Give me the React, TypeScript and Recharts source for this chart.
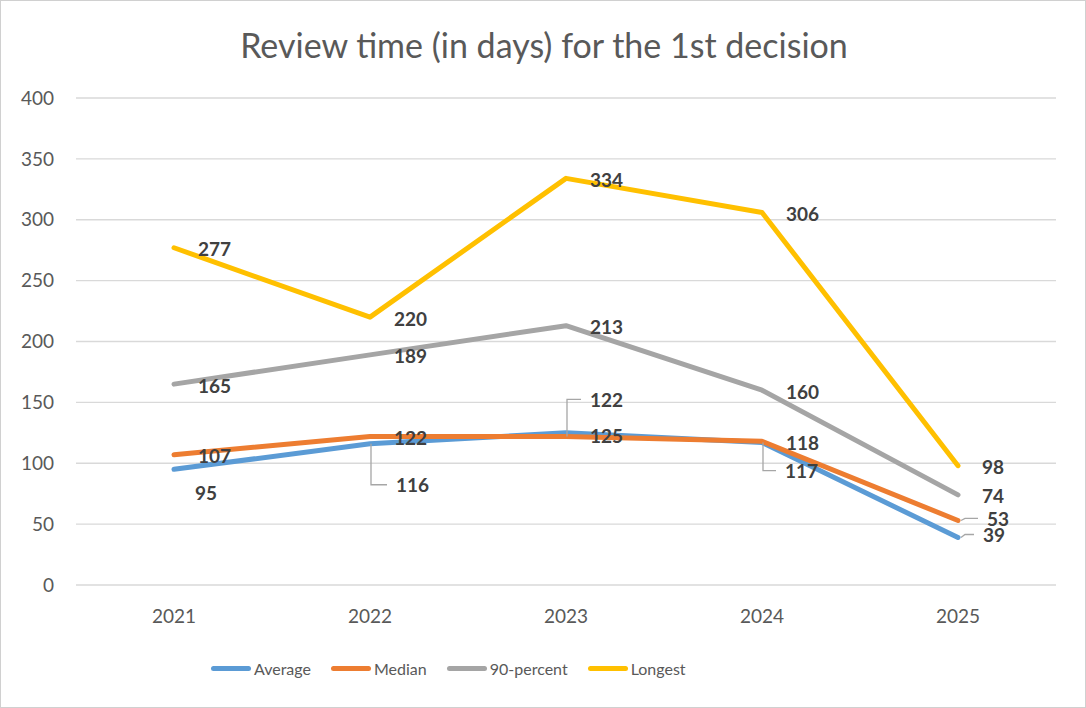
import React from 'react';
import {
  LineChart,
  Line,
  XAxis,
  YAxis,
  CartesianGrid,
  Legend,
  LabelList,
} from 'recharts';

const YEARS = ['2021', '2022', '2023', '2024', '2025'];
const AVERAGE = [95, 116, 125, 117, 39];
const MEDIAN = [107, 122, 122, 118, 53];
const P90 = [165, 189, 213, 160, 74];
const LONGEST = [277, 220, 334, 306, 98];
const Y_TICKS = [0, 50, 100, 150, 200, 250, 300, 350, 400];

const SERIES = [
  { key: 'average', name: 'Average', color: '#5B9BD5' },
  { key: 'median', name: 'Median', color: '#ED7D31' },
  { key: 'p90', name: '90-percent', color: '#A5A5A5' },
  { key: 'longest', name: 'Longest', color: '#FFC000' },
];

const data = YEARS.map((year, i) => ({
  year,
  average: AVERAGE[i],
  median: MEDIAN[i],
  p90: P90[i],
  longest: LONGEST[i],
}));

const FONT = 'Lato, "Open Sans", sans-serif';
const TEXT = '#595959';

type Place = { dx: number; dy: number; leader?: 'down' | 'up' | 'side' };
const DEFAULT_PLACE: Place = { dx: 24, dy: 1 };

// hand-moved data labels, as in the source sheet
const LABEL_PLACE: Record<string, Record<number, Place>> = {
  average: {
    0: { dx: 21, dy: 23 },
    1: { dx: 26, dy: 41, leader: 'down' },
    2: { dx: 24, dy: 3 },
    3: { dx: 23, dy: 28, leader: 'down' },
    4: { dx: 25, dy: -3, leader: 'side' },
  },
  median: {
    2: { dx: 24, dy: -37, leader: 'up' },
    4: { dx: 29, dy: -2, leader: 'side' },
  },
};

const makeLabel = (seriesKey: string) => (props: any) => {
  const { x, y, value, index } = props;
  const p = LABEL_PLACE[seriesKey]?.[index] ?? DEFAULT_PLACE;
  const tx = x + p.dx;
  const ty = y + p.dy;
  let leader: string | null = null;
  if (p.leader === 'down' || p.leader === 'up') {
    leader = `${x + 1},${y} ${x + 1},${ty} ${tx - 9},${ty}`;
  } else if (p.leader === 'side') {
    leader = `${x + 3},${y} ${x + 7},${ty} ${tx - 9},${ty}`;
  }
  return (
    <g>
      {leader && (
        <polyline points={leader} fill="none" stroke="#A6A6A6" strokeWidth={1.3} />
      )}
      <text
        x={tx}
        y={ty}
        dominantBaseline="central"
        textAnchor="start"
        fontFamily={FONT}
        fontWeight={700}
        fontSize={19}
        fill="#404040"
      >
        {value}
      </text>
    </g>
  );
};

function LegendContent() {
  return (
    <div
      style={{
        display: 'flex',
        alignItems: 'center',
        paddingLeft: 210,
        fontFamily: FONT,
        fontSize: 16,
        color: TEXT,
      }}
    >
      {SERIES.map((s) => (
        <div key={s.key} style={{ display: 'flex', alignItems: 'center', marginRight: 20 }}>
          <span
            style={{
              display: 'inline-block',
              width: 40,
              height: 5,
              borderRadius: 3,
              background: s.color,
              marginRight: 3,
            }}
          />
          <span>{s.name}</span>
        </div>
      ))}
    </div>
  );
}

export default function App() {
  return (
    <div
      style={{
        position: 'relative',
        width: 1086,
        height: 708,
        boxSizing: 'border-box',
        border: '1px solid #D0D0D0',
        background: '#fff',
      }}
    >
      <style>{'body{margin:0}'}</style>
      <div
        style={{
          position: 'absolute',
          top: 23,
          left: 0,
          width: 1086,
          textAlign: 'center',
          fontFamily: FONT,
          fontSize: 34,
          color: TEXT,
          lineHeight: '42px',
        }}
      >
        Review time (in days) for the 1st decision
      </div>
      <LineChart
        width={1084}
        height={706}
        data={data}
        margin={{ top: 97, right: 29, bottom: 62, left: 0 }}
      >
        <CartesianGrid vertical={false} stroke="#D9D9D9" strokeWidth={1.3} />
        <XAxis
          dataKey="year"
          axisLine={false}
          tickLine={false}
          tickSize={0}
          tickMargin={25}
          height={60}
          padding={{ left: 98, right: 98 }}
          tick={{ fill: TEXT, fontSize: 19, fontFamily: FONT }}
        />
        <YAxis
          domain={[0, 400]}
          ticks={Y_TICKS}
          axisLine={false}
          tickLine={false}
          tickSize={0}
          tickMargin={22}
          width={75}
          tick={{ fill: TEXT, fontSize: 19, fontFamily: FONT }}
        />
        <Legend
          layout="horizontal"
          verticalAlign="middle"
          align="center"
          content={<LegendContent />}
          wrapperStyle={{ top: 658, left: 0, width: 1086 }}
        />
        {SERIES.map((s) => (
          <Line
            key={s.key}
            type="linear"
            dataKey={s.key}
            name={s.name}
            stroke={s.color}
            strokeWidth={5}
            strokeLinecap="round"
            strokeLinejoin="round"
            dot={false}
            activeDot={false}
            isAnimationActive={false}
          >
            <LabelList dataKey={s.key} content={makeLabel(s.key)} />
          </Line>
        ))}
      </LineChart>
    </div>
  );
}
